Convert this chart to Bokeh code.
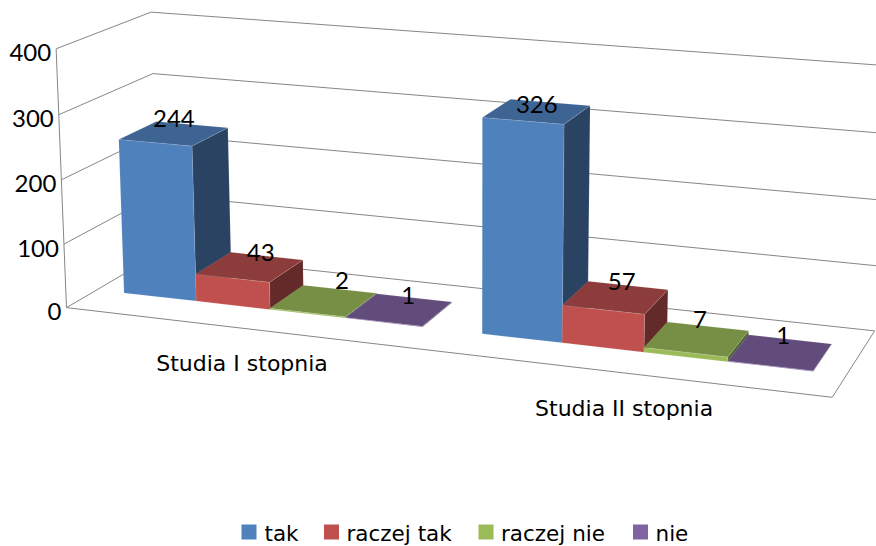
import numpy as np
from bokeh.plotting import figure
from bokeh.models import Range1d
from bokeh.core.properties import value
from bokeh.embed import file_html
from bokeh.resources import INLINE

categories = ["Studia I stopnia", "Studia II stopnia"]
series_names = ["tak", "raczej tak", "raczej nie", "nie"]
tak = [244, 326]
raczej_tak = [43, 57]
raczej_nie = [2, 7]
nie = [1, 1]
y_ticks = [0, 100, 200, 300, 400]

front_colors = ["#4F81BD", "#C0504D", "#9BBB59", "#8064A2"]
top_colors = ["#3E6494", "#8C3C3A", "#768F45", "#624C7C"]
side_colors = ["#2A4363", "#622A28", "#4F6030", "#43345A"]

MAXV = 400
BAR = 0.105
GAP = 0.08
W0, W1 = 0.315, 0.725

# perspective camera: calibrated on the chart box and the tallest bars
# (u along categories 0-1, v value / 400, w depth 0-1) -> page pixels
box = [
    (0, 0, 0, 66, 307), (0, .25, 0, 64.3, 242), (0, .5, 0, 62.3, 178), (0, .75, 0, 59.3, 114), (0, 1, 0, 56, 48),
    (0, .75, 1, 155, 72), (0, 1, 1, 153, 10), (0, 0, 1, 160, 253),
    (1, 0, 0, 832.7, 395), (1, 0, 1, 874, 329), (1, .25, 1, 877, 265.5),
    (1, .5, 1, 880, 199), (1, .75, 1, 882, 133), (1, 1, 1, 884, 64),
    (.04, 0, W0, 122.7, 293.3), (.145, 0, W0, 195, 301),
    (.04, .61, W0, 116.7, 139.3), (.145, .61, W0, 191, 146.7),
    (.145, .61, W1, 227, 129), (.04, .61, W1, 148, 122),
    (.54, 0, W0, 481.7, 334), (.645, 0, W0, 562, 343.3),
    (.54, .815, W0, 482, 116.7), (.645, .815, W0, 564, 124.3),
    (.645, .815, W1, 590, 107.7), (.54, .815, W1, 509, 99),
    (.96, 0, W0, 812.7, 371.7), (.96, 0, W1, 830, 344),
    (.25, 0, W0, 270, 309), (.46, 0, W0, 421.7, 326.7), (.46, 0, W1, 451.7, 301.7),
]
A, b_ = [], []
for u, v, w, x, y in box:
    A.append([u, v, w, 1, 0, 0, 0, 0, -x*u, -x*v, -x*w]); b_.append(x)
    A.append([0, 0, 0, 0, u, v, w, 1, -y*u, -y*v, -y*w]); b_.append(y)
P = np.append(np.linalg.lstsq(np.array(A, float), np.array(b_, float), rcond=None)[0], 1).reshape(3, 4)


def proj(cat_u, val, depth):
    h = P @ np.array([cat_u, val / 400.0, depth, 1.0])
    return h[0] / h[2], h[1] / h[2]


def face(points):
    xy = [proj(*pt) for pt in points]
    return [q[0] for q in xy], [q[1] for q in xy]


p = figure(width=876, height=546, x_range=Range1d(0, 876), y_range=Range1d(546, 0),
           output_backend="svg", toolbar_location=None,
           x_axis_location=None, y_axis_location=None, min_border=0)
p.grid.visible = False
p.outline_line_color = None
p.background_fill_color = "white"

# walls, floor
xs, ys = [], []
def seg(a, b):
    x, y = face([a, b]); xs.append(x); ys.append(y)
for t in y_ticks:
    seg((0, t, 0), (0, t, 1))
    seg((0, t, 1), (1, t, 1))
seg((0, 0, 0), (0, MAXV, 0))
seg((0, 0, 0), (1, 0, 0))
seg((1, 0, 0), (1, 0, 1))
p.multi_line(xs, ys, line_color="#868686", line_width=1)

# bars, far to near
values = [tak, raczej_tak, raczej_nie, nie]
label_nudge = [[(0, -15), (11, -14), (18, -20), (9, -14)], [(0, -7), (6, -16), (3, -20), (3, -17)]]
lab_x, lab_y, lab_t = [], [], []
for i in range(len(categories)):
    for j, series in enumerate(values):
        v = series[i]
        u0 = i * 0.5 + GAP / 2 + j * BAR
        u1 = u0 + BAR
        front = face([(u0, 0, W0), (u1, 0, W0), (u1, v, W0), (u0, v, W0)])
        side = face([(u1, 0, W0), (u1, 0, W1), (u1, v, W1), (u1, v, W0)])
        top = face([(u0, v, W0), (u1, v, W0), (u1, v, W1), (u0, v, W1)])
        for (fx, fy), col in ((side, side_colors[j]), (front, front_colors[j]), (top, top_colors[j])):
            p.patch(fx, fy, fill_color=col, line_color="white", line_alpha=0.2, line_width=0.6)
        cx, cy = proj((u0 + u1) / 2, v, (W0 + W1) / 2)
        dx, dy = label_nudge[i][j]
        lab_x.append(cx + dx); lab_y.append(cy + dy); lab_t.append(str(v))

p.text(lab_x, lab_y, text=lab_t, text_font=value("Lato"), text_font_size="24px",
       text_align="center", text_baseline="middle", text_color="black")

# value axis labels
tx, ty = zip(*[proj(0, t, 0) for t in y_ticks])
p.text([x - 5 for x in tx], [y + 4 for y in ty], text=[str(t) for t in y_ticks],
       text_font=value("Lato"), text_font_size="24px", text_align="right",
       text_baseline="middle", text_color="black")

# category labels
cat_x = []
cat_y = []
for i in range(len(categories)):
    x, y = proj(i * 0.5 + 0.25, 0, 0)
    cat_x.append(x - 1)
    cat_y.append(y + 35)
p.text(cat_x, cat_y, text=categories, text_font=value("DejaVu Sans"), text_font_size="22px",
       text_align="center", text_baseline="middle", text_color="black")

# legend
leg_sq = [241, 323.5, 478, 632.5]
leg_tx = [264, 346, 500.5, 655]
p.quad(left=leg_sq, right=[a + 15 for a in leg_sq], top=[524] * 4, bottom=[539] * 4,
       fill_color=front_colors, line_color=None)
p.text(leg_tx, [533] * 4, text=series_names, text_font=value("DejaVu Sans"), text_font_size="21.5px",
       text_align="left", text_baseline="middle", text_color="black")

open("out.html", "w").write(file_html(p, INLINE))
